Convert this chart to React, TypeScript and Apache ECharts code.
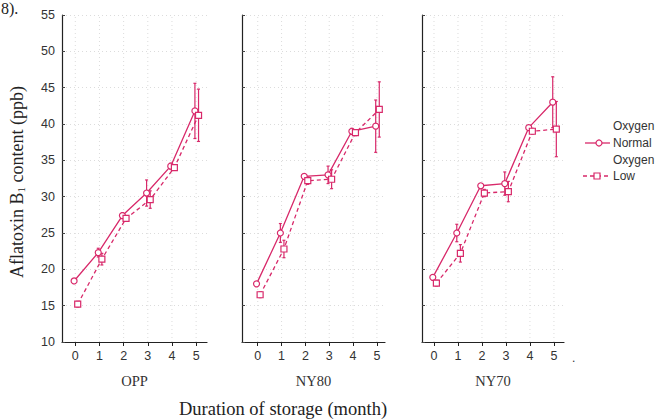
import React, { useEffect, useRef } from 'react';
import * as echarts from 'echarts';

const months = [0, 1, 2, 3, 4, 5];
const panelNames = ['OPP', 'NY80', 'NY70'];
const seriesNames = ['Oxygen Normal', 'Oxygen Low'];

const normalOPP = [18.4, 22.3, 27.4, 30.5, 34.2, 41.8];
const lowOPP = [15.2, 21.4, 27.0, 29.6, 34.0, 41.2];
const normalOPPErr = [0.3, 0.6, 0.4, 1.8, 0.4, 3.8];
const lowOPPErr = [0.4, 0.8, 0.4, 1.2, 0.3, 3.6];

const normalNY80 = [18.0, 25.0, 32.8, 33.0, 39.0, 39.7];
const lowNY80 = [16.5, 22.8, 32.2, 32.4, 38.8, 42.0];
const normalNY80Err = [0.3, 1.3, 0.3, 1.2, 0.4, 3.6];
const lowNY80Err = [0.4, 1.2, 0.5, 1.3, 0.4, 3.8];

const normalNY70 = [18.9, 25.0, 31.5, 31.8, 39.5, 43.0];
const lowNY70 = [18.1, 22.2, 30.5, 30.7, 39.0, 39.3];
const normalNY70Err = [0.3, 1.2, 0.3, 1.6, 0.3, 3.5];
const lowNY70Err = [0.4, 1.2, 0.5, 1.4, 0.4, 3.8];

const panelNormal = [normalOPP, normalNY80, normalNY70];
const panelLow = [lowOPP, lowNY80, lowNY70];
const panelNormalErr = [normalOPPErr, normalNY80Err, normalNY70Err];
const panelLowErr = [lowOPPErr, lowNY80Err, lowNY70Err];

const PINK = '#d8296a';
const GRIDC = '#dcdcdc';
const SANS = '"Liberation Sans", Arial, sans-serif';
const SERIF = '"Liberation Serif", "Times New Roman", serif';

const gridBoxes = [
  { left: 62, top: 15, width: 145, height: 327 },
  { left: 242, top: 15, width: 143, height: 327 },
  { left: 422, top: 15, width: 142, height: 327 },
];
const xMins = [-0.55, -0.66, -0.5];
const xMaxs = [5.45, 5.34, 5.42];
const offNormal = -0.05;
const offLow = 0.1;

function errorRender(params: any, api: any) {
  const x = api.value(0);
  const lo = api.coord([x, api.value(1)]);
  const hi = api.coord([x, api.value(2)]);
  const cap = 1.5;
  const style = { stroke: PINK, lineWidth: 1.2, fill: 'none' };
  return {
    type: 'group',
    children: [
      { type: 'line', shape: { x1: lo[0], y1: lo[1], x2: hi[0], y2: hi[1] }, style },
      { type: 'line', shape: { x1: lo[0] - cap, y1: lo[1], x2: lo[0] + cap, y2: lo[1] }, style },
      { type: 'line', shape: { x1: hi[0] - cap, y1: hi[1], x2: hi[0] + cap, y2: hi[1] }, style },
    ],
  };
}

function vGridRender(params: any, api: any) {
  const x = api.value(0);
  const a = api.coord([x, 10]);
  const b = api.coord([x, 55]);
  return {
    type: 'line',
    shape: { x1: a[0], y1: a[1], x2: b[0], y2: b[1] },
    style: { stroke: GRIDC, lineWidth: 1, lineDash: [1, 3] },
  };
}

export default function App() {
  const ref = useRef<HTMLDivElement>(null);
  useEffect(() => {
    const chart = echarts.init(ref.current!, null, { renderer: 'svg' });
    const grid = gridBoxes.map((g) => ({ ...g, containLabel: false }));
    const xAxis = panelNames.map((name, p) => ({
      type: 'value',
      gridIndex: p,
      min: xMins[p],
      max: xMaxs[p],
      name,
      nameLocation: 'middle',
      nameGap: 31,
      nameTextStyle: { fontFamily: SERIF, fontSize: 14.5, color: '#333' },
      axisLine: { show: true, onZero: false, lineStyle: { color: '#222', width: 1.2 } },
      axisTick: { show: true, customValues: months, length: 4, lineStyle: { color: '#222' } },
      axisLabel: { customValues: months, margin: 7, fontFamily: SANS, fontSize: 12.5, color: '#333' },
      splitLine: { show: false },
    }));
    const yAxis = panelNames.map((_, p) => ({
      type: 'value',
      gridIndex: p,
      min: 10,
      max: 55,
      interval: 5,
      axisLine: { show: true, onZero: false, lineStyle: { color: '#222', width: 1.2, type: 'solid' } },
      axisTick: { show: true, inside: true, length: 3, lineStyle: { color: '#444' } },
      axisLabel: { show: p === 0, margin: 7, fontFamily: SANS, fontSize: 12.5, color: '#333' },
      splitLine: { show: true, lineStyle: { color: GRIDC, type: [1, 3], width: 1 } },
    }));
    const series: any[] = [];
    panelNames.forEach((_, p) => {
      const normal = panelNormal[p];
      const low = panelLow[p];
      series.push({
        type: 'custom',
        xAxisIndex: p,
        yAxisIndex: p,
        renderItem: vGridRender,
        encode: { x: 0 },
        data: months.map((m) => [m]),
        silent: true,
        z: 1,
      });
      series.push({
        type: 'line',
        name: seriesNames[0],
        xAxisIndex: p,
        yAxisIndex: p,
        data: months.map((m, i) => [m + offNormal, normal[i]]),
        symbol: 'circle',
        symbolSize: 6,
        itemStyle: { color: '#fff', borderColor: PINK, borderWidth: 1.2 },
        lineStyle: { color: PINK, width: 1.3 },
        z: 4,
      });
      series.push({
        type: 'line',
        name: seriesNames[1],
        xAxisIndex: p,
        yAxisIndex: p,
        data: months.map((m, i) => [m + offLow, low[i]]),
        symbol: 'rect',
        symbolSize: 6,
        itemStyle: { color: '#fff', borderColor: PINK, borderWidth: 1.2 },
        lineStyle: { color: PINK, width: 1.3, type: [4, 3] },
        z: 4,
      });
      series.push({
        type: 'custom',
        xAxisIndex: p,
        yAxisIndex: p,
        renderItem: errorRender,
        encode: { x: 0, y: [1, 2] },
        data: months.map((m, i) => [m + offNormal, normal[i] - panelNormalErr[p][i], normal[i] + panelNormalErr[p][i]]),
        z: 3,
      });
      series.push({
        type: 'custom',
        xAxisIndex: p,
        yAxisIndex: p,
        renderItem: errorRender,
        encode: { x: 0, y: [1, 2] },
        data: months.map((m, i) => [m + offLow, low[i] - panelLowErr[p][i], low[i] + panelLowErr[p][i]]),
        z: 3,
      });
    });

    const legendText = (text: string, y: number) => ({
      type: 'text',
      x: 613,
      y,
      style: { text, fontFamily: SANS, fontSize: 12, fill: '#333', textVerticalAlign: 'middle' },
    });

    const graphic = [
      {
        type: 'text',
        x: 1,
        y: 0,
        style: { text: '8).', fontFamily: SERIF, fontSize: 16, fill: '#222' },
      },
      {
        type: 'text',
        x: 17,
        y: 182,
        rotation: Math.PI / 2,
        style: {
          text: 'Aflatoxin B{sub|1} content (ppb)',
          fontFamily: SERIF,
          fontSize: 18,
          fill: '#222',
          align: 'center',
          verticalAlign: 'middle',
          rich: { sub: { fontSize: 11, fontFamily: SERIF, fill: '#222', verticalAlign: 'bottom', padding: [7, 0, 0, 0] } },
        },
      },
      {
        type: 'text',
        x: 283,
        y: 409,
        style: {
          text: 'Duration of storage (month)',
          fontFamily: SERIF,
          fontSize: 18.5,
          fill: '#222',
          align: 'center',
          verticalAlign: 'middle',
        },
      },
      { type: 'text', x: 572, y: 352, style: { text: '.', fontFamily: SANS, fontSize: 12, fill: '#333' } },
      legendText('Oxygen', 126),
      legendText('Normal', 143),
      legendText('Oxygen', 160),
      legendText('Low', 176),
      { type: 'line', shape: { x1: 585, y1: 143, x2: 610, y2: 143 }, style: { stroke: PINK, lineWidth: 1.3 } },
      { type: 'circle', shape: { cx: 599, cy: 143, r: 3 }, style: { fill: '#fff', stroke: PINK, lineWidth: 1.2 } },
      { type: 'line', shape: { x1: 583, y1: 176, x2: 610, y2: 176 }, style: { stroke: PINK, lineWidth: 1.3, lineDash: [4, 3] } },
      { type: 'rect', shape: { x: 594, y: 173, width: 6, height: 6 }, style: { fill: '#fff', stroke: PINK, lineWidth: 1.2 } },
    ];

    chart.setOption({
      animation: false,
      backgroundColor: '#fff',
      grid,
      xAxis,
      yAxis,
      series,
      graphic,
    });
    return () => chart.dispose();
  }, []);
  return <div ref={ref} style={{ position: 'absolute', left: 0, top: 0, width: 659, height: 420 }} />;
}
